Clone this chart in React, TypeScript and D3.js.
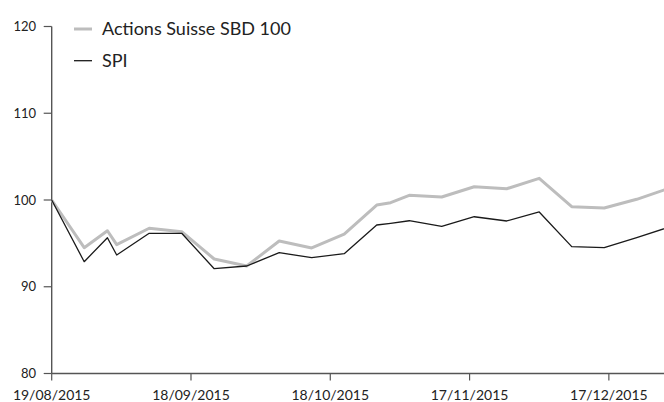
import React from "react";
import * as d3 from "d3";

const dates = [
  "2015-08-19", "2015-08-26", "2015-08-31", "2015-09-02", "2015-09-09", "2015-09-16",
  "2015-09-23", "2015-09-30", "2015-10-07", "2015-10-14", "2015-10-21", "2015-10-28",
  "2015-10-31", "2015-11-04", "2015-11-11", "2015-11-18", "2015-11-25", "2015-12-02",
  "2015-12-09", "2015-12-16", "2015-12-23", "2015-12-30",
];
const sbd100 = [
  100, 94.5, 96.46, 94.85, 96.74, 96.35, 93.2, 92.39, 95.27, 94.47, 96.08, 99.42,
  99.69, 100.54, 100.35, 101.53, 101.3, 102.5, 99.23, 99.08, 100.08, 101.36,
];
const spi = [
  100, 92.89, 95.65, 93.66, 96.16, 96.16, 92.08, 92.39, 93.93, 93.35, 93.81, 97.12,
  97.31, 97.61, 96.97, 98.07, 97.58, 98.62, 94.62, 94.5, 95.65, 96.89,
];
const xTickDates = ["2015-08-19", "2015-09-18", "2015-10-18", "2015-11-17", "2015-12-17"];
const yTicks = [80, 90, 100, 110, 120];
const seriesNames = ["Actions Suisse SBD 100", "SPI"];

const W = 664;
const H = 402;
const FONT = "Lato, 'Open Sans', sans-serif";

export default function App() {
  const parse = d3.timeParse("%Y-%m-%d");
  const fmt = d3.timeFormat("%d/%m/%Y");
  const x0 = 51.7;
  const pxPerDay = 4.643;
  const start = parse(dates[0])!;
  const endDate = d3.timeDay.offset(start, 140);
  const x = d3
    .scaleTime()
    .domain([start, endDate])
    .range([x0, x0 + 140 * pxPerDay]);
  const y = d3.scaleLinear().domain([80, 120]).range([373.5, 26.5]);

  const pts = (vals: number[]) => dates.map((d, i) => ({ d: parse(d)!, v: vals[i] }));
  const line = d3
    .line<{ d: Date; v: number }>()
    .x((p) => x(p.d))
    .y((p) => y(p.v));

  const axisColor = "#555";
  const gray = "#bdbdbd";
  const dark = "#1a1a1a";

  return (
    <svg
      width={W}
      height={H}
      style={{ position: "absolute", left: 0, top: 0, display: "block" }}
      fontFamily={FONT}
    >
      <rect width={W} height={H} fill="#fff" />
      {/* y axis */}
      <line x1={x0} x2={x0} y1={y(120)} y2={y(80)} stroke={axisColor} strokeWidth={1.4} />
      {yTicks.map((t) => (
        <g key={t}>
          <line x1={x0 - 8} x2={x0} y1={y(t)} y2={y(t)} stroke={axisColor} strokeWidth={1.2} />
          <text x={36} y={y(t)} dy="0.35em" textAnchor="end" fontSize={13} fill="#222">
            {t}
          </text>
        </g>
      ))}
      {/* x axis */}
      <line x1={x0} x2={W} y1={y(80)} y2={y(80)} stroke={axisColor} strokeWidth={1.4} />
      {xTickDates.map((s) => {
        const d = parse(s)!;
        return (
          <g key={s}>
            <line x1={x(d)} x2={x(d)} y1={y(80)} y2={y(80) + 7} stroke={axisColor} strokeWidth={1.2} />
            <text x={x(d)} y={400} textAnchor="middle" fontSize={14} fill="#222">
              {fmt(d)}
            </text>
          </g>
        );
      })}
      {/* lines */}
      <path d={line(pts(sbd100)) || ""} fill="none" stroke={gray} strokeWidth={3} strokeLinejoin="round" />
      <path d={line(pts(spi)) || ""} fill="none" stroke={dark} strokeWidth={1.3} strokeLinejoin="round" />
      {/* legend */}
      <line x1={74} x2={92} y1={29} y2={29} stroke={gray} strokeWidth={3} />
      <text x={102} y={35} fontSize={18} fill="#222">
        {seriesNames[0]}
      </text>
      <line x1={74} x2={92} y1={60.7} y2={60.7} stroke={dark} strokeWidth={1.3} />
      <text x={102} y={67} fontSize={18} fill="#222">
        {seriesNames[1]}
      </text>
    </svg>
  );
}
